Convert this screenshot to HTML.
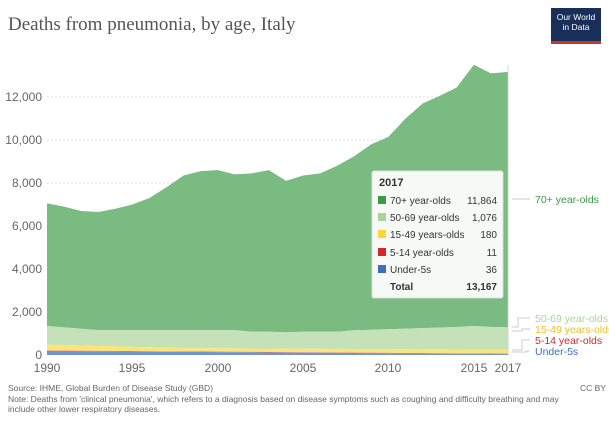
<!DOCTYPE html>
<html><head><meta charset="utf-8"><style>
body{margin:0;background:#fff;font-family:"Liberation Sans",sans-serif;}
</style></head><body>
<svg id="s" width="609" height="420" xmlns="http://www.w3.org/2000/svg" font-family="Liberation Sans, sans-serif">
<text x="8" y="30" font-family="Liberation Serif, serif" font-size="19" fill="#555">Deaths from pneumonia, by age, Italy</text>
<rect x="551" y="8" width="50" height="36" fill="#1a2e5a"/>
<rect x="551" y="41" width="50" height="3" fill="#c0392b"/>
<text x="576" y="20" font-size="8.5" fill="#fff" text-anchor="middle">Our World</text>
<text x="576" y="30" font-size="8.5" fill="#fff" text-anchor="middle">in Data</text>
<g id="grid" stroke="#ddd" stroke-dasharray="2,2"></g>
<g id="areas"></g>
<g font-size="12" fill="#666" id="ylab"></g>
<g font-size="12" fill="#666">
<text x="47" y="372" text-anchor="middle">1990</text>
<text x="132" y="372" text-anchor="middle">1995</text>
<text x="218" y="372" text-anchor="middle">2000</text>
<text x="303" y="372" text-anchor="middle">2005</text>
<text x="388" y="372" text-anchor="middle">2010</text>
<text x="474" y="372" text-anchor="middle">2015</text>
<text x="508" y="372" text-anchor="middle">2017</text>
</g>
<line x1="508" y1="65" x2="508" y2="356" stroke="#ccc" stroke-width="0.8"/>
<g stroke="#ccc" fill="none">
<line x1="512" y1="199" x2="530" y2="199"/>
<polyline points="512,327 518,327 518,318 530,318"/>
<polyline points="512,331 522,331 522,329 530,329"/>
<polyline points="512,350 522,350 522,340 530,340"/>
<polyline points="512,352 526,352 526,351 530,351"/>
</g>
<g font-size="10.5">
<text x="535" y="203" fill="#3a9a45">70+ year-olds</text>
<text x="535" y="322" fill="#a8d49a">50-69 year-olds</text>
<text x="535" y="333" fill="#f0c020">15-49 years-olds</text>
<text x="535" y="344" fill="#d62728">5-14 year-olds</text>
<text x="535" y="355" fill="#3c6fbf">Under-5s</text>
</g>
<g>
<rect x="372" y="171" width="131" height="127" fill="#f7f9f7" stroke="#ddd" rx="2"/>
<text x="379" y="186" font-size="11" font-weight="bold" fill="#333">2017</text>
<g font-size="10" fill="#333">
<rect x="378" y="196" width="8" height="8" fill="#3a9a45"/><text x="390" y="204">70+ year-olds</text><text x="497" y="204" text-anchor="end">11,864</text>
<rect x="378" y="213" width="8" height="8" fill="#a8d49a"/><text x="390" y="221">50-69 year-olds</text><text x="497" y="221" text-anchor="end">1,076</text>
<rect x="378" y="230" width="8" height="8" fill="#fdd835"/><text x="390" y="238">15-49 years-olds</text><text x="497" y="238" text-anchor="end">180</text>
<rect x="378" y="248" width="8" height="8" fill="#d62728"/><text x="390" y="256">5-14 year-olds</text><text x="497" y="256" text-anchor="end">11</text>
<rect x="378" y="265" width="8" height="8" fill="#3c6fbf"/><text x="390" y="273">Under-5s</text><text x="497" y="273" text-anchor="end">36</text>
<text x="390" y="290" font-weight="bold">Total</text><text x="497" y="290" text-anchor="end" font-weight="bold">13,167</text>
</g></g>
<g font-size="8.5" fill="#666">
<text x="8" y="391">Source: IHME, Global Burden of Disease Study (GBD)</text>
<text x="580" y="391">CC BY</text>
<text x="8" y="402">Note: Deaths from 'clinical pneumonia', which refers to a diagnosis based on disease symptoms such as coughing and difficulty breathing and may</text>
<text x="8" y="412">include other lower respiratory diseases.</text>
</g>
</svg>
<script>
var NS="http://www.w3.org/2000/svg";
function X(i){return 47+i*(461/27);}
function Y(v){return 355-v*0.0215;}
var tot=[7050,6900,6700,6650,6800,7000,7300,7800,8350,8550,8600,8400,8450,8600,8100,8350,8450,8800,9250,9800,10150,11000,11700,12050,12450,13500,13100,13167];
var s50=[],s15=[],s5=[],u5=[];
for(var i=0;i<28;i++){
 var a=1350-Math.min(i,3)*65; if(i>=12&&i<=17)a=1050+ (i==14?0:30); if(i>17)a=1150+(i-18)*25; if(i==25)a=1350; if(i>25)a=1300;
 s50.push(a);
 s15.push(480-Math.min(i,8)*20-Math.max(0,i-8)*4);
 s5.push(210-i*5.5);
 u5.push(190-i*5.5);
}
function area(top,bot,fill){
 var d="M"+X(0)+","+Y(top[0]);
 for(var i=1;i<28;i++)d+="L"+X(i)+","+Y(top[i]);
 for(var i=27;i>=0;i--)d+="L"+X(i)+","+Y(bot?bot[i]:0);
 var p=document.createElementNS(NS,"path");p.setAttribute("d",d+"Z");p.setAttribute("fill",fill);
 document.getElementById("areas").appendChild(p);
}
area(tot,s50,"#79bb80");area(s50,s15,"#c5e1b8");area(s15,s5,"#fde47a");area(s5,u5,"#e0736f");area(u5,null,"#6f94d0");
for(var v=0;v<=12000;v+=2000){
 var t=document.createElementNS(NS,"text");t.setAttribute("x",42);t.setAttribute("y",Y(v)+4);t.setAttribute("text-anchor","end");t.textContent=v.toLocaleString("en-US");document.getElementById("ylab").appendChild(t);
 if(v>0){var l=document.createElementNS(NS,"line");l.setAttribute("x1",47);l.setAttribute("x2",508);l.setAttribute("y1",Y(v));l.setAttribute("y2",Y(v));document.getElementById("grid").appendChild(l);}
}
</script>
</body></html>
